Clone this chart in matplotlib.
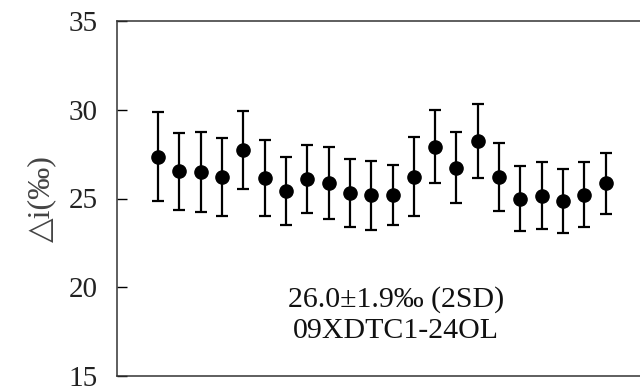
import numpy as np
import matplotlib.pyplot as plt

# analysis number, value and 2SD error
run = np.arange(1, 23)
delta_i = [27.36, 26.54, 26.48, 26.23, 27.72, 26.14, 25.43, 26.12, 25.88, 25.30, 25.19,
           25.19, 26.23, 27.92, 26.72, 28.26, 26.22, 25.00, 25.15, 24.85, 25.22, 25.86]
err = [2.49, 2.16, 2.25, 2.20, 2.20, 2.15, 1.91, 1.91, 2.04, 1.93, 1.95,
       1.69, 2.22, 2.05, 2.00, 2.08, 1.93, 1.81, 1.89, 1.81, 1.83, 1.71]
yticks = [15, 20, 25, 30, 35]
note = "26.0\u00b11.9\u2030 (2SD)\n09XDTC1-24OL"

plt.rcParams["font.family"] = ["Liberation Serif", "DejaVu Serif"]

fig = plt.figure(figsize=(6.4, 3.89), dpi=100)
ax = fig.add_axes([117 / 640, 13 / 389, 1 - 117 / 640, 355 / 389])

ax.errorbar(run, delta_i, yerr=err, fmt="o", color="black", ecolor="black",
            markersize=9.5, elinewidth=1.6, capsize=4.5, capthick=1.6)

ax.set_ylim(15, 35)
ax.set_yticks(yticks)
ax.set_xlim(1 - 41 / 21.32, 1 + 482 / 21.32)
ax.set_xticks([])
ax.tick_params(axis="y", direction="in", length=7, width=1, labelsize=21,
               pad=14, labelcolor="#222222")
for s in ["left", "top", "bottom"]:
    ax.spines[s].set_color("#333333")
    ax.spines[s].set_linewidth(1.1)
ax.spines["right"].set_visible(False)

ax.set_ylabel("\u25b3i(\u2030)", fontsize=23, color="#444444", labelpad=9)
ax.text(0.533, 0.172, note, transform=ax.transAxes, ha="center", va="center",
        fontsize=21.5, linespacing=1.27, color="#111111")

fig.savefig("out.png", dpi=100)
